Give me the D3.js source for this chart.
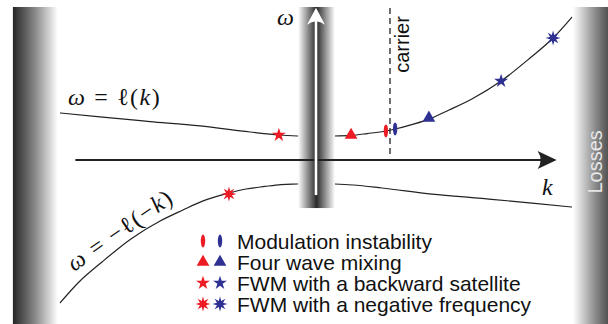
<!DOCTYPE html>
<html><head><meta charset="utf-8">
<script src="https://cdn.jsdelivr.net/npm/d3@7"></script>
<style>html,body{margin:0;padding:0;background:#fff;overflow:hidden}</style>
</head><body>
<svg id="chart" width="608" height="324"></svg>
<script>
// ---- data (k, omega) ----
const upperK = [-1.0, -0.844, -0.648, -0.453, -0.258, -0.145, -0.074, 0.0, 0.074, 0.137, 0.20, 0.273, 0.309, 0.36, 0.441, 0.52, 0.609, 0.723, 0.836, 0.926, 1.0];
const upperW = [0.329, 0.301, 0.269, 0.238, 0.196, 0.175, 0.168, 0.165, 0.168, 0.172, 0.185, 0.203, 0.217, 0.24, 0.286, 0.35, 0.427, 0.552, 0.713, 0.853, 1.0];
const lowerK = [-1.0, -0.926, -0.836, -0.723, -0.609, -0.52, -0.441, -0.36, -0.309, -0.273, -0.20, -0.137, -0.074, 0.0, 0.074, 0.145, 0.258, 0.453, 0.648, 0.844, 1.0];
const lowerW = [-1.0, -0.853, -0.713, -0.552, -0.427, -0.35, -0.286, -0.24, -0.217, -0.203, -0.185, -0.172, -0.168, -0.165, -0.168, -0.175, -0.196, -0.238, -0.269, -0.301, -0.329];
const carrierK = 0.289;
const markerTypes = ["ellipse", "triangle", "star", "asterisk"];
const legendLabels = ["Modulation instability", "Four wave mixing", "FWM with a backward satellite", "FWM with a negative frequency"];
const redK = [0.273, 0.137, -0.145, -0.340];
const redW = [0.203, 0.175, 0.175, -0.238];
const blueK = [0.309, 0.441, 0.723, 0.926];
const blueW = [0.217, 0.294, 0.552, 0.853];
const RED = "#ed1c24", BLUE = "#2e3192";

const svg = d3.select("#chart");
const x = d3.scaleLinear().domain([-1, 1]).range([60, 572]);
const y = d3.scaleLinear().domain([-1, 1]).range([303, 17]);

const defs = svg.append("defs");
function grad(id, stops) {
  const g = defs.append("linearGradient").attr("id", id).attr("x1", "0").attr("x2", "1").attr("y1", "0").attr("y2", "0");
  stops.forEach(s => g.append("stop").attr("offset", s[0]).attr("stop-color", s[1]));
}
grad("gl", [[0, "#262626"], [0.5, "#8a8a8a"], [1, "#ffffff"]]);
grad("gr", [[0, "#ffffff"], [0.5, "#8a8a8a"], [1, "#262626"]]);
grad("gc", [[0, "#ffffff"], [0.5, "#2a2a2a"], [1, "#ffffff"]]);

// side bands (losses)
svg.append("rect").attr("x", x(-1.184)).attr("y", y(1.07)).attr("width", x(-1.008) - x(-1.184)).attr("height", 330).attr("fill", "url(#gl)");
svg.append("rect").attr("x", x(1.004)).attr("y", y(1.07)).attr("width", x(1.18) - x(1.004)).attr("height", 330).attr("fill", "url(#gr)");
svg.append("text").attr("transform", `translate(${x(1.118)},${y(-0.235)}) rotate(-90)`)
  .attr("font-family", "Liberation Sans, Arial, sans-serif").attr("font-size", 20).attr("fill", "#e6e6e6").text("Losses");

// curves
const line = d3.line().x(d => x(d[0])).y(d => y(d[1])).curve(d3.curveMonotoneX);
svg.append("path").attr("d", line(upperK.map((k, i) => [k, upperW[i]]))).attr("fill", "none").attr("stroke", "#222").attr("stroke-width", 1.2);
svg.append("path").attr("d", line(lowerK.map((k, i) => [k, lowerW[i]]))).attr("fill", "none").attr("stroke", "#222").attr("stroke-width", 1.2);

// carrier
svg.append("line").attr("x1", x(carrierK)).attr("x2", x(carrierK)).attr("y1", y(1.063)).attr("y2", y(0.035))
  .attr("stroke", "#222").attr("stroke-width", 1.3).attr("stroke-dasharray", "6,4");
svg.append("text").attr("transform", `translate(${x(carrierK) + 19},${y(0.61)}) rotate(-90)`)
  .attr("font-family", "Liberation Sans, Arial, sans-serif").attr("font-size", 20).attr("fill", "#111").text("carrier");

// central band
svg.append("rect").attr("x", x(-0.07)).attr("y", y(1.07)).attr("width", x(0.074) - x(-0.07)).attr("height", y(-0.336) - y(1.07)).attr("fill", "url(#gc)");

// k axis
const kA = [-0.94, 0.94];
svg.append("line").attr("x1", x(kA[0])).attr("x2", x(kA[1]) - 10).attr("y1", y(0)).attr("y2", y(0)).attr("stroke", "#222").attr("stroke-width", 2.2);
{
  const tx = x(kA[1]), ty = y(0);
  svg.append("path").attr("d", `M${tx},${ty} L${tx - 19},${ty - 9} Q${tx - 13},${ty} ${tx - 19},${ty + 9} Z`).attr("fill", "#222");
}
// omega axis (white)
const wA = [-0.245, 1.065];
svg.append("line").attr("x1", x(0)).attr("x2", x(0)).attr("y1", y(wA[0])).attr("y2", y(wA[1]) + 8).attr("stroke", "#fff").attr("stroke-width", 2.6);
{
  const tx = x(0), ty = y(wA[1]);
  svg.append("path").attr("d", `M${tx},${ty} L${tx - 9},${ty + 17} Q${tx},${ty + 10} ${tx + 9},${ty + 17} Z`).attr("fill", "#fff");
}

// math labels
const mfont = "Liberation Serif, DejaVu Serif, serif";
function mathText(sel, parts) {
  parts.forEach(p => {
    const t = sel.append("tspan").attr("font-style", p[1] ? "italic" : "normal").text(p[0]);
    if (p[2]) t.attr("font-family", p[2]);
  });
}
mathText(svg.append("text").attr("x", 68).attr("y", 105).attr("font-family", mfont).attr("font-size", 24).attr("letter-spacing", 1.6).attr("fill", "#111"),
  [["ω", 1], [" = ", 0], ["ℓ", 0, "DejaVu Serif"], ["(", 0], ["k", 1], [")", 0]]);
mathText(svg.append("text").attr("transform", "translate(74,272) rotate(-35)").attr("font-family", mfont).attr("font-size", 24).attr("letter-spacing", 1.6).attr("fill", "#111"),
  [["ω", 1], [" = −", 0], ["ℓ", 0, "DejaVu Serif"], ["(−", 0], ["k", 1], [")", 0]]);
svg.append("text").attr("x", 542).attr("y", 195).attr("font-family", mfont).attr("font-style", "italic").attr("font-size", 24).attr("fill", "#111").text("k");
svg.append("text").attr("x", 277).attr("y", 25).attr("font-family", mfont).attr("font-style", "italic").attr("font-size", 24).attr("fill", "#111").text("ω");

// markers
function asteriskPath(r1, r2, n) {
  const pts = [];
  for (let i = 0; i < 2 * n; i++) {
    const a = Math.PI * i / n - Math.PI / 2;
    const r = i % 2 ? r2 : r1;
    pts.push([r * Math.cos(a), r * Math.sin(a)]);
  }
  return "M" + pts.map(p => p.join(",")).join("L") + "Z";
}
function drawMarker(g, type, cx, cy, color) {
  if (type === "ellipse") {
    g.append("ellipse").attr("cx", cx).attr("cy", cy).attr("rx", 2.2).attr("ry", 6.5).attr("fill", color);
  } else if (type === "triangle") {
    g.append("path").attr("transform", `translate(${cx},${cy})`).attr("d", d3.symbol(d3.symbolTriangle, 70)()).attr("fill", color);
  } else if (type === "star") {
    g.append("path").attr("transform", `translate(${cx},${cy})`).attr("d", d3.symbol(d3.symbolStar, 60)()).attr("fill", color);
  } else {
    g.append("path").attr("transform", `translate(${cx},${cy})`).attr("d", asteriskPath(7.5, 3.3, 8)).attr("fill", color);
  }
}
const mg = svg.append("g");
markerTypes.forEach((t, i) => {
  drawMarker(mg, t, x(redK[i]), y(redW[i]), RED);
  drawMarker(mg, t, x(blueK[i]), y(blueW[i]), BLUE);
});

// legend
const lg = svg.append("g");
legendLabels.forEach((lab, i) => {
  const cy = 241 + i * 21;
  drawMarker(lg, markerTypes[i], 203, cy, RED);
  drawMarker(lg, markerTypes[i], 220, cy, BLUE);
  lg.append("text").attr("x", 237).attr("y", cy + 7.5).attr("font-family", "Liberation Sans, Arial, sans-serif")
    .attr("font-size", 21).attr("fill", "#111").text(lab);
});
</script>
</body></html>
